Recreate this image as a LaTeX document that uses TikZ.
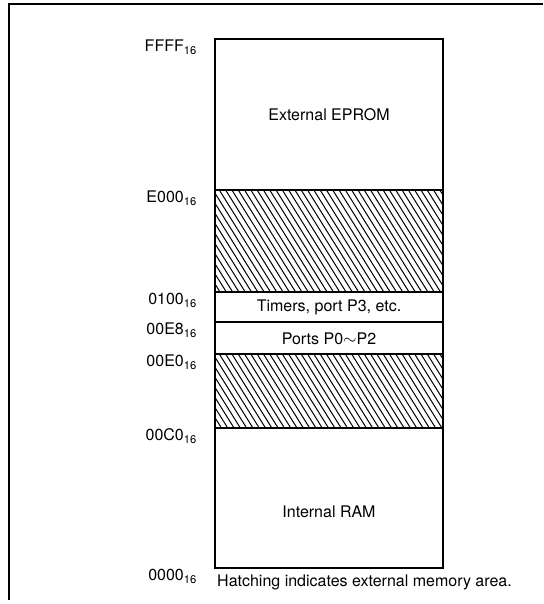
\documentclass[tikz,border=0pt]{standalone}
\usepackage{fontspec}
\setmainfont{TeX Gyre Heros}
\begin{document}
\begin{tikzpicture}[x=1pt, y=1pt, font=\fontsize{16}{19}\selectfont,
  region/.style={draw, line width=1.6pt},
  hatch/.style={line width=1pt},
  addr/.style={anchor=base east, inner sep=0pt}]
  \useasboundingbox (0,0) rectangle (543,604);
  \draw[line width=1.6pt] (9,4) -- (9,600) -- (543,600);
  % boundaries of the memory map
  \coordinate (mffff) at (215,565);
  \coordinate (me000) at (215,414);
  \coordinate (m0100) at (215,312);
  \coordinate (m00e8) at (215,282);
  \coordinate (m00e0) at (215,250);
  \coordinate (m00c0) at (215,176);
  \coordinate (m0000) at (215,36);
  \foreach \lo/\hi in {312/414, 176/250} {
    \begin{scope}
      \clip (215,\lo) rectangle (443,\hi);
      \foreach \x in {150,156.3,...,443}
        \draw[hatch] (\x,\hi) -- ++(-58:200);
    \end{scope}
  }
  \draw[region] (m0000) rectangle (443,565);
  \foreach \m in {me000, m0100, m00e8, m00e0, m00c0}
    \draw[region] (\m) -- ++(228,0);
  \node[addr] (lffff) at ([xshift=-18pt, yshift=-12.5pt]mffff) {FFFF\textsubscript{16}};
  \node[addr] (le000) at ([xshift=-18pt, yshift=-12.5pt]me000) {E000\textsubscript{16}};
  \node[addr] (l0100) at ([xshift=-18pt, yshift=-12.5pt]m0100) {0100\textsubscript{16}};
  \node[addr] (l00e8) at ([xshift=-18pt, yshift=-12.5pt]m00e8) {00E8\textsubscript{16}};
  \node[addr] (l00e0) at ([xshift=-18pt, yshift=-12.5pt]m00e0) {00E0\textsubscript{16}};
  \node[addr] (l00c0) at ([xshift=-18pt, yshift=-12.5pt]m00c0) {00C0\textsubscript{16}};
  \node[addr] (l0000) at ([xshift=-18pt, yshift=-12.5pt]m0000) {0000\textsubscript{16}};
  \node (eprom) at (329,489) {External EPROM};
  \node (timers) at (329,297) {Timers, port P3, etc.};
  \node (ports) at (329,265) {Ports P0$\sim$P2};
  \node (ram) at (329,92) {Internal RAM};
  \node[anchor=base west, inner sep=0pt] (note) at (217,17) {Hatching indicates external memory area.};
\end{tikzpicture}
\end{document}
